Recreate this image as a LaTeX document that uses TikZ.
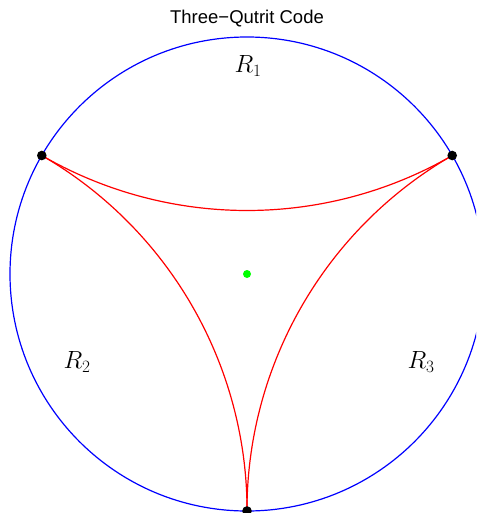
\documentclass[tikz,border=0pt]{standalone}
\usepackage{fontspec}
\setsansfont{Liberation Sans}
\usetikzlibrary{arrows.meta}

\begin{document}
\begin{tikzpicture}[x=1pt, y=-1pt, line width=1.2pt, line cap=round, line join=round,
    vertex/.style={fill=black},
    region/.style={anchor=center,inner sep=0pt,font=\fontsize{27}{32}\selectfont}]

  %% ════ canvas ════
  \path[use as bounding box] (0,0) rectangle (476,513);
  \clip (0,0) rectangle (476,513);

  %% ════ points ════
  \coordinate (ctr) at (247.0,274.0);
  \coordinate (va) at (41.8,155.5);   % 150 deg
  \coordinate (vb) at (452.2,155.5);  % 30 deg
  \coordinate (vc) at (247.0,511.0);  % 270 deg

  %% ════ boundary circle ════
  \draw[blue] (ctr) circle (237.0);

  %% ════ geodesics (orthogonal arcs, radius sqrt3 * R) ════
  \draw[red] (va) arc[start angle=120, end angle=60, radius=410.5];
  \draw[red] (va) arc[start angle=-60, end angle=0, radius=410.5];
  \draw[red] (vb) arc[start angle=-120, end angle=-180, radius=410.5];

  %% ════ dots ════
  \fill[vertex] (va) circle (4.8);
  \fill[vertex] (vb) circle (4.8);
  \fill[vertex] (vc) circle (4.8);
  \fill[green] (ctr) circle (4.0);

  %% ════ labels ════
  \node[anchor=center,inner sep=0pt,font=\sffamily\fontsize{18.5}{22}\selectfont] (title) at (247.0,19.0) {Three\textminus Qutrit Code};
  \node[region] (r1) at (248.0,66.0) {$R_1$};
  \node[region] (r2) at (77.0,362.0) {$R_2$};
  \node[region] (r3) at (421.0,362.0) {$R_3$};
\end{tikzpicture}
\end{document}
